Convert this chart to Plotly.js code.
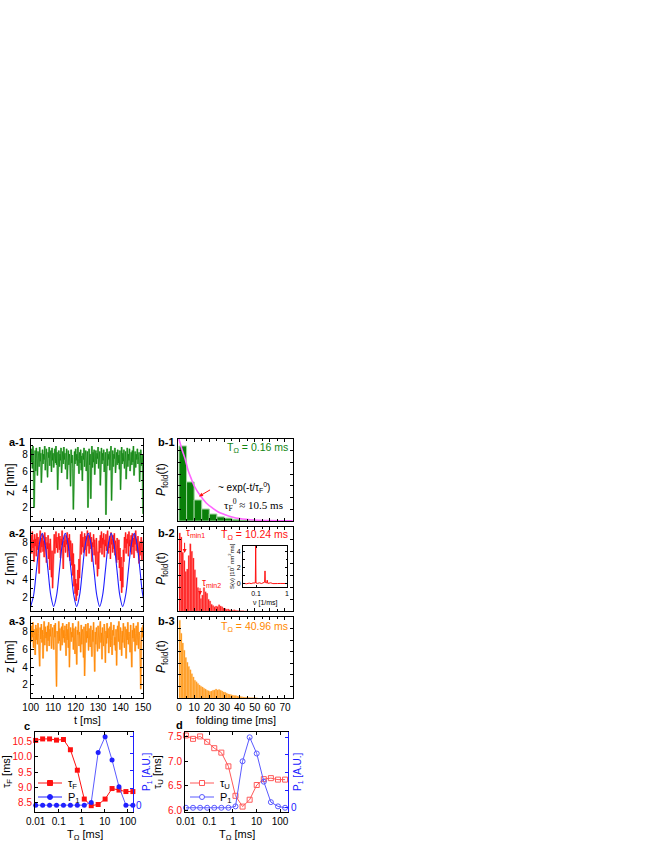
<!DOCTYPE html>
<html>
<head>
<meta charset="utf-8">
<script src="https://cdn.plot.ly/plotly-3.0.1.min.js"></script>
<style>
  html, body { margin: 0; padding: 0; background: #fff; }
  #fig { width: 654px; height: 846px; }
</style>
</head>
<body>
<div id="fig"></div>
<script>
// Folding / unfolding under periodic force — 8-panel figure

const W = 654, H = 846;

// ─── data ───────────────────────────────────────────────────────────────────

// a-panels: extension traces z(t), sampled from t = 100 ms every 0.25 ms
const T_START = 100;
const T_STEP = 0.25;

const zGreen = [
  8.2, 7.1, 8.6, 6.4, 8.9, 7.3, 2.0, 7.8, 8.4, 6.1, 8.7, 7.5, 5.6, 8.3, 7.9, 6.6, 8.8, 7.2, 8.1, 4.8,
  7.6, 8.5, 6.9, 8.0, 7.4, 8.9, 6.2, 7.7, 8.6, 7.1, 5.4, 8.2, 7.6, 8.8, 6.7, 7.9, 8.4, 6.0, 8.7, 7.3,
  8.1, 6.5, 7.8, 8.6, 7.0, 8.9, 6.8, 8.2, 4.0, 7.5, 8.4, 6.6, 8.0, 7.3, 8.7, 5.9, 7.6, 8.3, 6.9, 8.8,
  7.4, 8.1, 6.3, 7.9, 8.6, 5.2, 7.7, 8.4, 6.8, 8.0, 7.2, 4.4, 8.5, 7.0, 7.9, 6.4, 1.8, 7.5, 8.3, 6.9,
  8.6, 7.3, 8.0, 6.7, 8.8, 7.5, 5.8, 8.2, 7.0, 8.5, 6.2, 7.8, 5.0, 8.1, 7.4, 8.7, 6.6, 7.9, 8.4, 6.1,
  7.7, 8.3, 2.0, 7.2, 8.6, 6.8, 8.0, 3.0, 7.4, 8.9, 6.5, 8.2, 7.1, 8.5, 5.7, 7.8, 8.4, 6.9, 8.1, 7.5,
  8.8, 6.4, 7.9, 8.3, 4.5, 7.6, 8.7, 6.9, 8.1, 7.3, 8.5, 6.0, 7.8, 8.2, 1.2, 7.0, 8.6, 6.7, 8.0, 7.4,
  8.3, 6.2, 7.7, 8.9, 2.8, 7.1, 8.4, 6.6, 8.0, 7.5, 8.7, 5.9, 7.3, 8.2, 6.8, 8.5, 7.0, 7.9, 6.3, 8.4,
  4.0, 7.6, 8.8, 6.9, 8.1, 7.2, 8.5, 6.4, 7.8, 8.3, 5.2, 7.5, 8.7, 6.6, 8.0, 7.3, 8.6, 6.1, 7.9, 8.2,
  6.8, 8.4, 7.1, 8.9, 5.6, 7.7, 8.3, 6.5, 8.0, 7.4, 8.6, 6.9, 7.6, 8.2, 4.9, 7.9, 8.5, 6.7, 7.2, 8.0,
  1.3,
];

const zRed = [
  7.9, 8.8, 6.8, 9.2, 7.4, 8.3, 5.9, 8.9, 7.6, 8.4, 6.5, 9.0, 7.2, 8.6, 7.8, 4.6, 8.1, 9.3, 6.9, 8.5,
  7.5, 8.9, 7.0, 8.2, 6.4, 9.1, 7.7, 8.6, 5.8, 8.0, 7.3, 8.8, 6.2, 7.9, 5.0, 8.4, 6.6, 4.2, 7.1, 3.0,
  5.2, 7.6, 8.9, 6.8, 8.3, 9.2, 7.4, 8.6, 6.9, 8.1, 9.0, 7.2, 8.7, 6.3, 8.4, 7.7, 9.3, 6.6, 5.1, 8.2,
  7.5, 8.8, 6.9, 8.3, 7.8, 9.1, 6.4, 8.5, 7.1, 8.9, 6.0, 8.2, 7.4, 5.5, 7.9, 4.4, 6.8, 3.2, 5.6, 2.4,
  4.0, 1.6, 3.5, 2.2, 5.0, 2.8, 6.2, 4.1, 7.8, 8.9, 6.7, 9.2, 7.5, 8.6, 6.9, 8.3, 9.0, 7.2, 8.7, 6.5,
  8.4, 9.3, 7.6, 8.8, 6.8, 8.2, 9.1, 7.3, 8.6, 5.9, 8.0, 7.5, 8.9, 6.6, 8.3, 7.1, 5.6, 8.5, 6.2, 4.3,
  7.0, 5.1, 8.2, 6.9, 8.8, 7.4, 9.2, 6.7, 8.5, 7.8, 9.0, 6.4, 8.3, 7.6, 8.9, 7.1, 8.6, 9.3, 6.8, 8.0,
  7.4, 8.7, 6.2, 9.1, 7.8, 8.4, 6.9, 8.8, 7.3, 9.0, 6.6, 8.2, 7.7, 5.8, 8.5, 7.0, 6.1, 8.3, 5.2, 7.4,
  3.8, 6.4, 2.5, 5.3, 3.1, 7.2, 5.9, 8.6, 7.4, 9.1, 6.8, 8.4, 7.9, 8.9, 6.5, 9.2, 7.6, 8.3, 7.0, 8.8,
  6.7, 9.0, 7.5, 8.5, 6.3, 8.9, 7.8, 9.3, 7.1, 8.4, 6.9, 8.7, 7.4, 5.7, 8.1, 6.6, 7.9, 8.6, 6.0, 7.3,
  8.2,
];

const zOrange = [
  8.0, 6.9, 8.7, 7.4, 9.1, 6.2, 8.3, 7.6, 5.4, 8.8, 7.1, 8.4, 6.6, 9.0, 7.8, 6.3, 4.1, 8.5, 7.2, 8.9,
  6.8, 8.2, 5.0, 7.7, 9.2, 6.5, 8.6, 7.3, 8.0, 5.8, 8.7, 7.0, 9.1, 6.4, 8.3, 7.5, 8.9, 6.1, 7.9, 8.5,
  7.2, 6.0, 8.8, 7.4, 9.0, 5.6, 1.8, 8.1, 7.7, 6.7, 9.2, 7.0, 8.4, 5.9, 7.8, 8.6, 6.5, 9.0, 7.3, 8.2,
  6.8, 8.7, 7.5, 5.3, 8.9, 7.1, 8.3, 6.2, 9.1, 4.0, 7.6, 8.5, 6.9, 8.0, 7.4, 9.0, 6.0, 8.4, 7.2, 5.5,
  8.6, 7.0, 4.3, 8.2, 7.7, 9.2, 6.4, 8.0, 7.4, 5.7, 8.8, 6.6, 8.3, 7.9, 5.1, 8.6, 3.0, 7.5, 8.9, 6.8,
  8.1, 7.3, 9.0, 5.9, 8.4, 7.0, 6.3, 8.7, 7.6, 5.2, 8.2, 6.9, 9.1, 7.4, 3.5, 8.0, 6.6, 8.5, 7.1, 5.8,
  8.7, 7.5, 6.1, 8.3, 9.2, 6.8, 7.9, 4.9, 8.5, 7.2, 6.4, 8.9, 7.7, 4.5, 8.1, 6.7, 9.0, 7.3, 8.4, 5.6,
  7.8, 8.6, 6.3, 9.1, 7.0, 5.4, 8.2, 7.6, 8.8, 6.5, 7.4, 5.9, 8.3, 4.2, 7.9, 8.7, 6.9, 9.2, 7.2, 6.0,
  8.5, 7.7, 5.3, 8.1, 6.8, 9.0, 7.4, 6.2, 8.6, 7.9, 5.0, 8.3, 7.1, 9.1, 6.6, 8.0, 7.5, 5.7, 8.8, 6.4,
  4.0, 8.2, 7.3, 9.0, 6.9, 8.4, 5.8, 7.8, 8.7, 6.5, 7.2, 9.1, 6.1, 8.0, 7.6, 5.5, 1.5, 6.8, 8.5, 7.4,
  8.8,
];

// a-2: driving (periodic) signal, read every 1.28 ms from t = 100 ms
const DRIVE_START = 100;
const DRIVE_STEP = 1.28;
const zDrive = [
  1.0, 2.2, 5.0, 7.8, 9.0, 7.8, 5.0, 2.2,
  1.0, 2.2, 5.0, 7.8, 9.0, 7.8, 5.0, 2.2,
  1.0, 2.2, 5.0, 7.8, 9.0, 7.8, 5.0, 2.2,
  1.0, 2.2, 5.0, 7.8, 9.0, 7.8, 5.0, 2.2,
  1.0, 2.2, 5.0, 7.8, 9.0, 7.8, 5.0, 2.2,
  1.0,
];

// b-1: folding-time histogram (5 ms bins) and exponential fit
const B1_BIN = 5;
const b1Hist = [0.915, 0.476, 0.256, 0.146, 0.085, 0.05, 0.035, 0.02, 0.012, 0.008, 0.005, 0.003, 0.002, 0.001];
const fitT = [0, 2, 4, 6, 8, 10, 14, 18, 22, 26, 30, 35, 40, 50, 60, 76];
const fitP = [1.0, 0.87, 0.76, 0.62, 0.52, 0.43, 0.31, 0.22, 0.16, 0.11, 0.08, 0.05, 0.03, 0.012, 0.005, 0.002];

// b-2 and b-3: folding-time histograms (1 ms bins)
const B_BIN = 1;
const b2Hist = [
  0.93, 0.88, 0.70, 0.60, 0.47, 0.50, 0.66, 0.80, 0.71, 0.63, 0.49, 0.40, 0.28, 0.22, 0.15,
  0.19, 0.28, 0.23, 0.21, 0.14, 0.12, 0.08, 0.065, 0.05, 0.06, 0.055, 0.075, 0.06, 0.05, 0.035,
  0.03, 0.02, 0.025, 0.015, 0.012, 0.008, 0.014, 0.01, 0.006, 0.004, 0.003, 0.002, 0.002, 0.001, 0.001,
];
const b3Hist = [
  0.96, 0.80, 0.68, 0.59, 0.50, 0.44, 0.39, 0.35, 0.30, 0.26, 0.22, 0.20, 0.18, 0.16, 0.145,
  0.135, 0.12, 0.11, 0.095, 0.09, 0.08, 0.085, 0.095, 0.10, 0.11, 0.10, 0.105, 0.095, 0.085, 0.075,
  0.07, 0.06, 0.05, 0.045, 0.04, 0.035, 0.03, 0.03, 0.025, 0.02, 0.02, 0.015, 0.012, 0.01, 0.008,
  0.006, 0.005, 0.004, 0.003, 0.002, 0.002, 0.001,
];

// b-2 inset: power spectrum S(nu)
const specNu = [0.04, 0.05, 0.06, 0.07, 0.08, 0.09, 0.095, 0.0977, 0.1, 0.11, 0.13, 0.15, 0.17, 0.19, 0.195, 0.2, 0.22, 0.23, 0.24, 0.27, 0.3, 0.35, 0.4, 0.5, 0.6, 0.8, 1.0];
const specS  = [0.05, 0.0, 0.08, 0.02, 0.1, 0.05, 0.1, 4.8, 0.1, 0.05, 0.12, 0.03, 0.08, 0.2, 1.6, 0.15, 0.1, 0.45, 0.05, 0.06, 0.12, 0.02, 0.05, 0.03, 0.04, 0.02, 0.03];

// c, d: lifetimes and resonance amplitude vs. period T_Omega
const tOmega   = [0.01, 0.02, 0.04, 0.08, 0.16, 0.32, 0.64, 1.28, 2.56, 5.12, 10.24, 20.48, 40.96, 81.92, 163.84];
const tauF     = [10.55, 10.60, 10.60, 10.56, 10.58, 10.24, 9.56, 8.60, 8.38, 8.42, 8.60, 8.95, 8.90, 8.85, 8.85];
const p1Fold   = [0, 0, 0, 0, 0, 0, 0, 0, 0.04, 0.77, 1.0, 0.66, 0.27, 0, 0];
const tauU     = [7.53, 7.46, 7.51, 7.40, 7.27, 7.18, 6.90, 6.30, 6.08, 6.22, 6.52, 6.64, 6.66, 6.63, 6.63];
const p1Unfold = [0, 0, 0, 0, 0, 0, 0, 0.02, 0.66, 1.0, 0.77, 0.37, 0.08, 0.02, 0];

// ─── styling ────────────────────────────────────────────────────────────────

const C = {
  green:  '#128512',
  greenLight: '#8ccc8c',
  greenBar: '#0a7f0a',
  red:    '#ff1010',
  redPale: '#ff9a9a',
  redLight: '#ff5a5a',
  blue:   '#2020ff',
  blueLight: '#5a5aff',
  orange: '#ff8800',
  orangePale: '#ffc68a',
  orangeBar: '#ff9a1a',
  magenta: '#ff66ff',
};
const FONT = 'Liberation Sans, Arial, sans-serif';

const dx = (l, r) => [l / W, r / W];
const dy = (top, bottom) => [1 - bottom / H, 1 - top / H];

function frame(extra) {
  return Object.assign({
    showline: true, linecolor: '#000', linewidth: 1, mirror: 'ticks',
    ticks: 'inside', ticklen: 3, tickcolor: '#000', tickwidth: 1,
    showgrid: false, zeroline: false, fixedrange: true,
    tickfont: { size: 10, color: '#000' },
  }, extra);
}

const BX_A = dx(30.7, 143);
const BX_B = dx(178, 292.7);
const BY_1 = dy(439, 521);
const BY_2 = dy(527, 611);
const BY_3 = dy(617, 698);

const zAxis = (anchor, domain) => frame({
  anchor, domain, range: [0.5, 9.7], tickvals: [2, 4, 6, 8],
  minor: { ticks: 'inside', ticklen: 2, dtick: 1, tickcolor: '#000' },
});
const tAxis = (anchor, labels) => frame({
  anchor, domain: BX_A, range: [100, 150], dtick: 10, showticklabels: labels,
  minor: { ticks: 'inside', ticklen: 2, dtick: 5, tickcolor: '#000' },
});
const foldAxis = (anchor, labels) => frame({
  anchor, domain: BX_B, range: [-0.66, 75.1], dtick: 10, tick0: 0, showticklabels: labels,
  minor: { ticks: 'inside', ticklen: 2, dtick: 5, tickcolor: '#000' },
});
const pAxis = (anchor, domain) => frame({
  anchor, domain, range: [0, 1.0], dtick: 1 / 7, showticklabels: false,
});
// right-hand P1 axes: a single "0" label, unlabeled ticks in between
const rightAxis = (anchor, overlaying, range) => frame({
  anchor, overlaying, side: 'right', range, mirror: false,
  linecolor: C.blue, tickcolor: C.blue, tickvals: [0],
  minor: { ticks: 'inside', ticklen: 3, dtick: 0.25, tickcolor: C.blue },
  tickfont: { size: 10, color: C.blue },
});

// ─── traces ─────────────────────────────────────────────────────────────────

// a noisy trace: pale wide halo under a thin dark core
function zTrace(y, dark, pale, xa, ya) {
  return [
    { type: 'scatter', mode: 'lines', x0: T_START, dx: T_STEP, y,
      line: { color: pale, width: 2 }, xaxis: xa, yaxis: ya, showlegend: false },
    { type: 'scatter', mode: 'lines', x0: T_START, dx: T_STEP, y,
      line: { color: dark, width: 0.8 }, xaxis: xa, yaxis: ya, showlegend: false },
  ];
}

const traces = [
  // a-1 .. a-3
  ...zTrace(zGreen, C.green, C.greenLight, 'x', 'y'),
  ...zTrace(zRed, C.red, C.redPale, 'x2', 'y2'),
  { type: 'scatter', mode: 'lines', x0: DRIVE_START, dx: DRIVE_STEP, y: zDrive,
    line: { color: C.blue, width: 1.1, shape: 'spline', smoothing: 1 }, xaxis: 'x2', yaxis: 'y2', showlegend: false },
  ...zTrace(zOrange, C.orange, C.orangePale, 'x3', 'y3'),

  // b-1
  { type: 'bar', x0: B1_BIN / 2, dx: B1_BIN, y: b1Hist, width: B1_BIN,
    marker: { color: C.greenBar, line: { color: '#9fd49f', width: 1 } },
    xaxis: 'x4', yaxis: 'y4', showlegend: false },
  { type: 'scatter', mode: 'lines', x: fitT, y: fitP,
    line: { color: C.magenta, width: 1.6, shape: 'spline' }, xaxis: 'x4', yaxis: 'y4', showlegend: false },

  // b-2 with inset
  { type: 'bar', x0: B_BIN / 2, dx: B_BIN, y: b2Hist, width: B_BIN,
    marker: { color: C.red, line: { color: '#ff9090', width: 0.3 } },
    xaxis: 'x5', yaxis: 'y5', showlegend: false },
  { type: 'scatter', mode: 'lines', x: specNu, y: specS,
    line: { color: C.red, width: 1 }, xaxis: 'x7', yaxis: 'y7', showlegend: false },

  // b-3
  { type: 'bar', x0: B_BIN / 2, dx: B_BIN, y: b3Hist, width: B_BIN,
    marker: { color: C.orangeBar, line: { color: '#ffc070', width: 0.3 } },
    xaxis: 'x6', yaxis: 'y6', showlegend: false },

  // c
  { type: 'scatter', mode: 'lines+markers', x: tOmega, y: tauF, name: '\u03C4F',
    line: { color: C.red, width: 1 }, marker: { symbol: 'square', size: 5, color: C.red },
    xaxis: 'x8', yaxis: 'y8', showlegend: false, cliponaxis: false },
  { type: 'scatter', mode: 'lines+markers', x: tOmega, y: p1Fold, name: 'P1',
    line: { color: C.blueLight, width: 1 }, marker: { symbol: 'circle', size: 5, color: C.blue },
    xaxis: 'x8', yaxis: 'y9', showlegend: false, cliponaxis: false },

  // d
  { type: 'scatter', mode: 'lines+markers', x: tOmega, y: tauU, name: '\u03C4U',
    line: { color: C.redLight, width: 1 }, marker: { symbol: 'square-open', size: 5, color: C.redLight, line: { width: 1 } },
    xaxis: 'x10', yaxis: 'y10', showlegend: false, cliponaxis: false },
  { type: 'scatter', mode: 'lines+markers', x: tOmega, y: p1Unfold, name: 'P1',
    line: { color: C.blueLight, width: 1 }, marker: { symbol: 'circle-open', size: 5, color: C.blueLight, line: { width: 1 } },
    xaxis: 'x10', yaxis: 'y11', showlegend: false, cliponaxis: false },
];

// ─── annotations ────────────────────────────────────────────────────────────

function txt(text, x, y, opts) {
  return Object.assign({
    xref: 'paper', yref: 'paper', x: x / W, y: 1 - y / H, text, showarrow: false,
    xanchor: 'center', yanchor: 'middle',
    font: { family: FONT, size: 11, color: '#000' },
  }, opts);
}
const bold = (t, x, y) => txt('<b>' + t + '</b>', x, y, { font: { family: FONT, size: 11, color: '#000' } });
const vtitle = (t, x, y, color, size) => txt(t, x, y, { textangle: -90, font: { family: FONT, size: size || 11, color: color || '#000' } });
const arrow = (xa, ya, x, y, ax, ay) => ({
  xref: xa, yref: ya, axref: xa, ayref: ya, x, y, ax, ay,
  text: '', showarrow: true, arrowhead: 2, arrowsize: 0.8, arrowwidth: 1, arrowcolor: C.red,
});

// hand-drawn legends for c and d (line sample, marker, label)
const legendShapes = [];
const legendText = [];
function legendEntry(x, y, color, symbol, filled, label) {
  legendShapes.push({ type: 'line', xref: 'paper', yref: 'paper',
    x0: x / W, x1: (x + 24) / W, y0: 1 - y / H, y1: 1 - y / H, line: { color, width: 1 } });
  legendShapes.push({ type: symbol, xref: 'paper', yref: 'paper',
    x0: (x + 9.5) / W, x1: (x + 14.5) / W, y0: 1 - (y + 2.5) / H, y1: 1 - (y - 2.5) / H,
    line: { color, width: 1 }, fillcolor: filled ? color : '#fff' });
  legendText.push(txt(label, x + 28, y + 1, { xanchor: 'left', font: { family: FONT, size: 11, color: '#000' } }));
}
legendEntry(38, 783, C.red, 'rect', true, '\u03C4<sub>F</sub>');
legendEntry(38, 797, C.blue, 'circle', true, 'P<sub>1</sub>');
legendEntry(190, 783, C.redLight, 'rect', false, '\u03C4<sub>U</sub>');
legendEntry(190, 797, C.blueLight, 'circle', false, 'P<sub>1</sub>');

const annotations = [
  bold('a-1', 17, 442), bold('a-2', 17, 533), bold('a-3', 17, 621),
  bold('b-1', 166, 442), bold('b-2', 166, 533), bold('b-3', 166, 621),
  bold('c', 27, 726), bold('d', 179, 725),

  vtitle('z [nm]', 10, 480, '#000', 12), vtitle('z [nm]', 10, 569, '#000', 12), vtitle('z [nm]', 10, 657, '#000', 12),
  vtitle('<i>P</i><sub>fold</sub>(t)', 162, 480, '#000', 12),
  vtitle('<i>P</i><sub>fold</sub>(t)', 162, 569, '#000', 12),
  vtitle('<i>P</i><sub>fold</sub>(t)', 162, 657, '#000', 12),
  txt('t [ms]', 87, 720), txt('folding time [ms]', 236, 720),

  vtitle('\u03C4<sub>F</sub> [ms]', 7, 772), vtitle('P<sub>1</sub> [A.U.]', 147, 772, C.blue, 10),
  vtitle('\u03C4<sub>U</sub> [ms]', 158, 772), vtitle('P<sub>1</sub> [A.U.]', 298, 772, C.blue, 10),
  txt('T<sub>\u03A9</sub> [ms]', 85, 835), txt('T<sub>\u03A9</sub> [ms]', 237, 835),

  // b-1 labels
  txt('T<sub>\u03A9</sub> = 0.16 ms', 290, 448, { xanchor: 'right', font: { family: FONT, size: 10.5, color: C.green } }),
  txt('~ exp(-t/\u03C4<sub>F</sub><sup>0</sup>)', 216, 487, { xanchor: 'left', font: { family: FONT, size: 10, color: '#000' } }),
  txt('\u03C4<sub>F</sub><sup>0</sup> \u2248 10.5 ms', 222, 505, { xanchor: 'left', font: { family: 'Liberation Serif, Times New Roman, serif', size: 11, color: '#000' } }),
  arrow('x4', 'y4', 13.2, 0.30, 21.5, 0.39),

  // b-2 labels
  txt('T<sub>\u03A9</sub> = 10.24 ms', 290, 535, { xanchor: 'right', font: { family: FONT, size: 10.5, color: C.red } }),
  txt('\u03C4<sub>min1</sub>', 184, 533, { xanchor: 'left', font: { family: FONT, size: 10, color: C.red } }),
  txt('\u03C4<sub>min2</sub>', 200, 583, { xanchor: 'left', font: { family: FONT, size: 10, color: C.red } }),
  arrow('x5', 'y5', 3.7, 0.69, 3.7, 0.83),
  arrow('x5', 'y5', 13.9, 0.19, 13.9, 0.29),
  vtitle('S(\u03BD) [10<sup>7</sup> nm<sup>2</sup>ms]', 231, 566, '#000', 6),
  txt('\u03BD [1/ms]', 265, 603, { font: { family: FONT, size: 7, color: '#000' } }),

  // b-3 label
  txt('T<sub>\u03A9</sub> = 40.96 ms', 290, 627, { xanchor: 'right', font: { family: FONT, size: 10.5, color: C.orange } }),

  ...legendText,
];

// ─── layout ─────────────────────────────────────────────────────────────────

const logTicks = { tickvals: [0.01, 0.1, 1, 10, 100], ticktext: ['0.01', '0.1', '1', '10', '100'] };

const layout = {
  width: W, height: H,
  margin: { l: 0, r: 0, t: 0, b: 0 },
  paper_bgcolor: '#fff', plot_bgcolor: 'rgba(0,0,0,0)',
  font: { family: FONT, size: 10, color: '#000' },
  bargap: 0,
  showlegend: false,

  xaxis:  tAxis('y', false),
  yaxis:  zAxis('x', BY_1),
  xaxis2: tAxis('y2', false),
  yaxis2: zAxis('x2', BY_2),
  xaxis3: tAxis('y3', true),
  yaxis3: zAxis('x3', BY_3),

  xaxis4: foldAxis('y4', false),
  yaxis4: pAxis('x4', BY_1),
  xaxis5: foldAxis('y5', false),
  yaxis5: pAxis('x5', BY_2),
  xaxis6: foldAxis('y6', true),
  yaxis6: pAxis('x6', BY_3),

  // inset
  xaxis7: frame({ anchor: 'y7', domain: dx(243, 287), type: 'log', range: [-1.42, 0],
    tickvals: [0.1, 1], ticktext: ['0.1', '1'], ticklen: 2, tickfont: { size: 7 } }),
  yaxis7: frame({ anchor: 'x7', domain: dy(546, 587), range: [-0.4, 4.7],
    tickvals: [0, 2, 4], ticklen: 2, tickfont: { size: 7 },
    minor: { ticks: 'inside', ticklen: 1.5, dtick: 1, tickcolor: '#000' } }),

  // c
  xaxis8: frame({ anchor: 'y8', domain: dx(35, 133), type: 'log', range: [-2.03, 2.22], ...logTicks }),
  yaxis8: frame({ anchor: 'x8', domain: dy(732, 812), range: [8.17, 10.83], mirror: false,
    tickvals: [8.5, 9.0, 9.5, 10.0, 10.5], ticktext: ['8.5', '9.0', '9.5', '10.0', '10.5'],
    tickfont: { size: 10, color: C.red } }),
  yaxis9: rightAxis('x8', 'y8', [-0.1, 1.07]),

  // d
  xaxis10: frame({ anchor: 'y10', domain: dx(185, 288), type: 'log', range: [-2.04, 2.34], ...logTicks }),
  yaxis10: frame({ anchor: 'x10', domain: dy(732, 812), range: [5.97, 7.60], mirror: false,
    tickvals: [6.0, 6.5, 7.0, 7.5], ticktext: ['6.0', '6.5', '7.0', '7.5'],
    tickfont: { size: 10, color: C.red } }),
  yaxis11: rightAxis('x10', 'y10', [-0.06, 1.075]),

  shapes: legendShapes,
  annotations,
};

Plotly.newPlot('fig', traces, layout, { displayModeBar: false, staticPlot: true });
</script>
</body>
</html>
